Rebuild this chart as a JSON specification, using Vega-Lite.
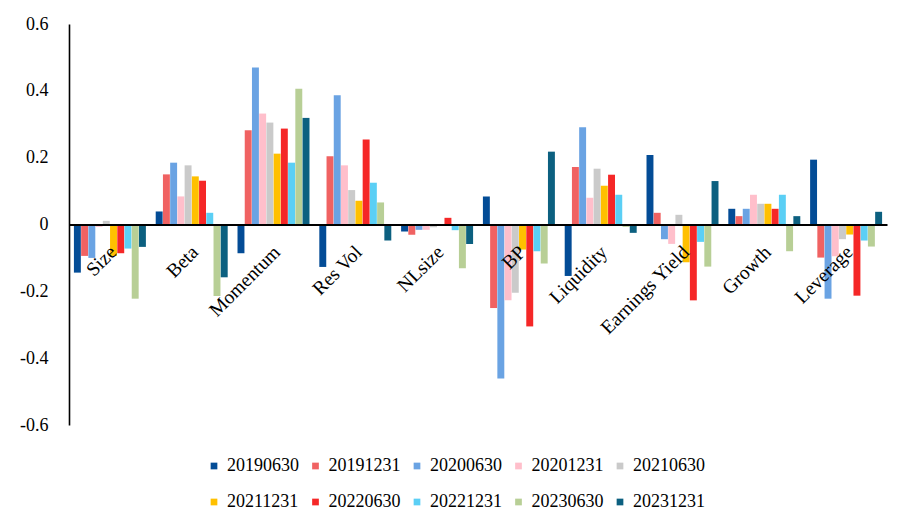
{
  "$schema": "https://vega.github.io/schema/vega-lite/v6.json",
  "autosize": {"type": "none"},
  "padding": {"left": 69, "top": 24, "right": 19, "bottom": 100},
  "width": 818,
  "height": 401,
  "background": "white",
  "config": {
    "view": {"stroke": null},
    "font": "Liberation Serif",
    "axis": {"labelFont": "Liberation Serif", "labelColor": "black", "grid": false},
    "legend": {"labelFont": "Liberation Serif", "labelColor": "black"},
    "text": {"font": "Liberation Serif"}
  },
  "datasets": {
    "factors": [
      {"factor": "Size"}, {"factor": "Beta"}, {"factor": "Momentum"}, {"factor": "Res Vol"}, {"factor": "NLsize"},
      {"factor": "BP"}, {"factor": "Liquidity"}, {"factor": "Earnings Yield"}, {"factor": "Growth"}, {"factor": "Leverage"}
    ],
    "bars": [
      {"factor": "Size", "date": "20190630", "value": -0.144},
      {"factor": "Size", "date": "20191231", "value": -0.094},
      {"factor": "Size", "date": "20200630", "value": -0.100},
      {"factor": "Size", "date": "20201231", "value": -0.007},
      {"factor": "Size", "date": "20210630", "value": 0.011},
      {"factor": "Size", "date": "20211231", "value": -0.094},
      {"factor": "Size", "date": "20220630", "value": -0.086},
      {"factor": "Size", "date": "20221231", "value": -0.072},
      {"factor": "Size", "date": "20230630", "value": -0.222},
      {"factor": "Size", "date": "20231231", "value": -0.067},
      {"factor": "Beta", "date": "20190630", "value": 0.039},
      {"factor": "Beta", "date": "20191231", "value": 0.150},
      {"factor": "Beta", "date": "20200630", "value": 0.185},
      {"factor": "Beta", "date": "20201231", "value": 0.084},
      {"factor": "Beta", "date": "20210630", "value": 0.177},
      {"factor": "Beta", "date": "20211231", "value": 0.144},
      {"factor": "Beta", "date": "20220630", "value": 0.131},
      {"factor": "Beta", "date": "20221231", "value": 0.035},
      {"factor": "Beta", "date": "20230630", "value": -0.214},
      {"factor": "Beta", "date": "20231231", "value": -0.158},
      {"factor": "Momentum", "date": "20190630", "value": -0.086},
      {"factor": "Momentum", "date": "20191231", "value": 0.282},
      {"factor": "Momentum", "date": "20200630", "value": 0.470},
      {"factor": "Momentum", "date": "20201231", "value": 0.332},
      {"factor": "Momentum", "date": "20210630", "value": 0.305},
      {"factor": "Momentum", "date": "20211231", "value": 0.212},
      {"factor": "Momentum", "date": "20220630", "value": 0.287},
      {"factor": "Momentum", "date": "20221231", "value": 0.185},
      {"factor": "Momentum", "date": "20230630", "value": 0.406},
      {"factor": "Momentum", "date": "20231231", "value": 0.319},
      {"factor": "Res Vol", "date": "20190630", "value": -0.127},
      {"factor": "Res Vol", "date": "20191231", "value": 0.204},
      {"factor": "Res Vol", "date": "20200630", "value": 0.387},
      {"factor": "Res Vol", "date": "20201231", "value": 0.177},
      {"factor": "Res Vol", "date": "20210630", "value": 0.103},
      {"factor": "Res Vol", "date": "20211231", "value": 0.071},
      {"factor": "Res Vol", "date": "20220630", "value": 0.254},
      {"factor": "Res Vol", "date": "20221231", "value": 0.125},
      {"factor": "Res Vol", "date": "20230630", "value": 0.066},
      {"factor": "Res Vol", "date": "20231231", "value": -0.048},
      {"factor": "NLsize", "date": "20190630", "value": -0.021},
      {"factor": "NLsize", "date": "20191231", "value": -0.031},
      {"factor": "NLsize", "date": "20200630", "value": -0.016},
      {"factor": "NLsize", "date": "20201231", "value": -0.016},
      {"factor": "NLsize", "date": "20210630", "value": -0.008},
      {"factor": "NLsize", "date": "20211231", "value": -0.002},
      {"factor": "NLsize", "date": "20220630", "value": 0.020},
      {"factor": "NLsize", "date": "20221231", "value": -0.017},
      {"factor": "NLsize", "date": "20230630", "value": -0.131},
      {"factor": "NLsize", "date": "20231231", "value": -0.058},
      {"factor": "BP", "date": "20190630", "value": 0.084},
      {"factor": "BP", "date": "20191231", "value": -0.250},
      {"factor": "BP", "date": "20200630", "value": -0.461},
      {"factor": "BP", "date": "20201231", "value": -0.227},
      {"factor": "BP", "date": "20210630", "value": -0.204},
      {"factor": "BP", "date": "20211231", "value": -0.075},
      {"factor": "BP", "date": "20220630", "value": -0.305},
      {"factor": "BP", "date": "20221231", "value": -0.080},
      {"factor": "BP", "date": "20230630", "value": -0.117},
      {"factor": "BP", "date": "20231231", "value": 0.218},
      {"factor": "Liquidity", "date": "20190630", "value": -0.154},
      {"factor": "Liquidity", "date": "20191231", "value": 0.172},
      {"factor": "Liquidity", "date": "20200630", "value": 0.291},
      {"factor": "Liquidity", "date": "20201231", "value": 0.080},
      {"factor": "Liquidity", "date": "20210630", "value": 0.167},
      {"factor": "Liquidity", "date": "20211231", "value": 0.116},
      {"factor": "Liquidity", "date": "20220630", "value": 0.149},
      {"factor": "Liquidity", "date": "20221231", "value": 0.089},
      {"factor": "Liquidity", "date": "20230630", "value": -0.007},
      {"factor": "Liquidity", "date": "20231231", "value": -0.025},
      {"factor": "Earnings Yield", "date": "20190630", "value": 0.208},
      {"factor": "Earnings Yield", "date": "20191231", "value": 0.035},
      {"factor": "Earnings Yield", "date": "20200630", "value": -0.044},
      {"factor": "Earnings Yield", "date": "20201231", "value": -0.058},
      {"factor": "Earnings Yield", "date": "20210630", "value": 0.029},
      {"factor": "Earnings Yield", "date": "20211231", "value": -0.113},
      {"factor": "Earnings Yield", "date": "20220630", "value": -0.227},
      {"factor": "Earnings Yield", "date": "20221231", "value": -0.052},
      {"factor": "Earnings Yield", "date": "20230630", "value": -0.126},
      {"factor": "Earnings Yield", "date": "20231231", "value": 0.130},
      {"factor": "Growth", "date": "20190630", "value": 0.047},
      {"factor": "Growth", "date": "20191231", "value": 0.025},
      {"factor": "Growth", "date": "20200630", "value": 0.047},
      {"factor": "Growth", "date": "20201231", "value": 0.089},
      {"factor": "Growth", "date": "20210630", "value": 0.062},
      {"factor": "Growth", "date": "20211231", "value": 0.062},
      {"factor": "Growth", "date": "20220630", "value": 0.047},
      {"factor": "Growth", "date": "20221231", "value": 0.089},
      {"factor": "Growth", "date": "20230630", "value": -0.080},
      {"factor": "Growth", "date": "20231231", "value": 0.025},
      {"factor": "Leverage", "date": "20190630", "value": 0.194},
      {"factor": "Leverage", "date": "20191231", "value": -0.099},
      {"factor": "Leverage", "date": "20200630", "value": -0.222},
      {"factor": "Leverage", "date": "20201231", "value": -0.095},
      {"factor": "Leverage", "date": "20210630", "value": -0.044},
      {"factor": "Leverage", "date": "20211231", "value": -0.030},
      {"factor": "Leverage", "date": "20220630", "value": -0.213},
      {"factor": "Leverage", "date": "20221231", "value": -0.048},
      {"factor": "Leverage", "date": "20230630", "value": -0.066},
      {"factor": "Leverage", "date": "20231231", "value": 0.038}
    ]
  },
  "layer": [
    {
      "data": {"name": "bars"},
      "mark": {"type": "bar"},
      "encoding": {
        "x": {
          "field": "factor",
          "type": "nominal",
          "sort": ["Size", "Beta", "Momentum", "Res Vol", "NLsize", "BP", "Liquidity", "Earnings Yield", "Growth", "Leverage"],
          "scale": {"paddingInner": 0.12, "paddingOuter": 0.06},
          "axis": {
            "title": null,
            "orient": "bottom",
            "offset": -200.5,
            "zindex": 1,
            "domainColor": "black",
            "domainWidth": 2,
            "ticks": false,
            "labels": false
          }
        },
        "xOffset": {
          "field": "date",
          "type": "nominal",
          "scale": {"paddingInner": 0.04, "paddingOuter": 0}
        },
        "y": {
          "field": "value",
          "type": "quantitative",
          "scale": {"domain": [-0.6, 0.6], "nice": false, "zero": false},
          "axis": {
            "title": null,
            "values": [-0.6, -0.4, -0.2, 0, 0.2, 0.4, 0.6],
            "labelExpr": "datum.value == 0 ? '0' : toString(round(datum.value * 10) / 10)",
            "labelFont": "Liberation Serif",
            "domainColor": "black",
            "domainWidth": 1.6,
            "ticks": false,
            "labelFontSize": 18,
            "labelPadding": 21
          }
        },
        "color": {
          "field": "date",
          "type": "nominal",
          "scale": {
            "domain": ["20190630", "20191231", "20200630", "20201231", "20210630", "20211231", "20220630", "20221231", "20230630", "20231231"],
            "range": ["#034C96", "#F06262", "#6AA3E3", "#FFBFCB", "#CACACA", "#FFC000", "#F52727", "#5BCFF5", "#B8CF96", "#0C6080"]
          },
          "legend": {
            "title": null,
            "orient": "none",
            "legendX": 136,
            "legendY": 433,
            "direction": "horizontal",
            "columns": 5,
            "symbolType": "square",
            "symbolSize": 45,
            "symbolStrokeWidth": 0,
            "labelFont": "Liberation Serif",
            "labelFontSize": 18,
            "labelOffset": 4,
            "columnPadding": 7.5,
            "rowPadding": 18,
            "padding": 0
          }
        }
      }
    },
    {
      "data": {"name": "factors"},
      "mark": {
        "type": "text",
        "font": "Liberation Serif",
        "fontSize": 19.5,
        "angle": -45,
        "align": "right",
        "baseline": "top",
        "color": "black",
        "dx": -15,
        "dy": 11
      },
      "encoding": {
        "x": {"field": "factor", "type": "nominal", "sort": ["Size", "Beta", "Momentum", "Res Vol", "NLsize", "BP", "Liquidity", "Earnings Yield", "Growth", "Leverage"]},
        "y": {"datum": 0},
        "text": {"field": "factor"}
      }
    }
  ]
}
